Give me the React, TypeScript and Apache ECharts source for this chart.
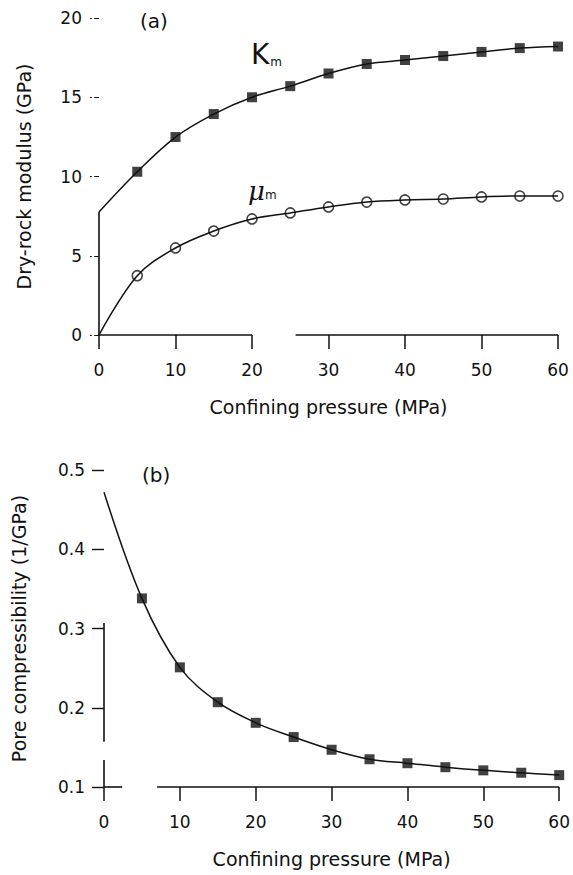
import React, { useEffect, useRef } from "react";
import * as echarts from "echarts";

// ---- data ----
const pressure = [5, 10, 15, 20, 25, 30, 35, 40, 45, 50, 55, 60];
const kDry = [10.3, 12.49, 13.94, 15.0, 15.7, 16.5, 17.1, 17.35, 17.6, 17.86, 18.1, 18.2];
const muDry = [3.74, 5.49, 6.56, 7.32, 7.7, 8.08, 8.39, 8.52, 8.58, 8.71, 8.77, 8.77];
const kAtZero = 7.76;
const muAtZero = 0;
const poreComp = [0.338, 0.251, 0.207, 0.181, 0.163, 0.147, 0.135, 0.13, 0.125, 0.121, 0.118, 0.115];
const poreAtZero = 0.472;

// visible pieces of the (scanned, broken) axis lines, in data units
const aYAxisSegments = [[0, kAtZero]];
const aXAxisSegments = [[0, 20], [25.7, 60]];
const bYAxisSegments = [[0.1, 0.134], [0.157, 0.307]];
const bXAxisSegments = [[0, 2.4], [7, 60]];

const xTicks = { min: 0, max: 60, interval: 10 };

const FONT = "DejaVu Sans";
const INK = "#111";

const pts = (xs: number[], ys: number[]) => xs.map((x, i) => [x, ys[i]]);

function segLines(segs: number[][], vertical: boolean, fixed: number) {
  return segs.map(([a, b]) =>
    vertical
      ? [{ coord: [fixed, a] }, { coord: [fixed, b] }]
      : [{ coord: [a, fixed] }, { coord: [b, fixed] }]
  );
}

export default function App() {
  const ref = useRef<HTMLDivElement>(null);
  useEffect(() => {
    if (!ref.current) return;
    const chart = echarts.init(ref.current, null, { renderer: "svg" });

    const tickLabel = { color: INK, fontFamily: FONT, fontSize: 17 };
    const nameStyle = { color: INK, fontFamily: FONT, fontSize: 19 };

    const xAxisBase = (gridIndex: number) => ({
      type: "value",
      gridIndex,
      ...xTicks,
      name: "Confining pressure (MPa)",
      nameLocation: "middle",
      nameGap: 62,
      nameTextStyle: nameStyle,
      axisLine: { show: false },
      axisTick: { show: true, inside: false, length: 14, lineStyle: { color: INK, width: 1.5 } },
      axisLabel: { ...tickLabel, margin: 26 },
      splitLine: { show: false },
    });

    const axisSegStyle = {
      symbol: ["none", "none"],
      silent: true,
      label: { show: false },
      lineStyle: { type: "solid", color: INK, width: 1.6 },
      emphasis: { disabled: true },
    };

    chart.setOption({
      animation: false,
      backgroundColor: "#fff",
      grid: [
        { left: 99, right: 15, top: 18, height: 317 },
        { left: 104, right: 12, top: 470, height: 317 },
      ],
      xAxis: [xAxisBase(0), xAxisBase(1)],
      yAxis: [
        {
          type: "value",
          gridIndex: 0,
          min: 0,
          max: 20,
          interval: 5,
          name: "Dry-rock modulus (GPa)",
          nameLocation: "middle",
          nameGap: 66,
          nameTextStyle: nameStyle,
          axisLine: { show: false },
          axisTick: { show: true, inside: false, length: 9, lineStyle: { color: INK, width: 1.2, type: "dashed" } },
          axisLabel: { ...tickLabel, margin: 17 },
          splitLine: { show: false },
        },
        {
          type: "value",
          gridIndex: 1,
          min: 0.1,
          max: 0.5,
          interval: 0.1,
          name: "Pore compressibility (1/GPa)",
          nameLocation: "middle",
          nameGap: 76,
          nameTextStyle: nameStyle,
          axisLine: { show: false },
          axisTick: { show: true, inside: false, length: 12, lineStyle: { color: INK, width: 1.4 } },
          axisLabel: { ...tickLabel, margin: 19, formatter: (v: number) => v.toFixed(1) },
          splitLine: { show: false },
        },
      ],
      graphic: [
        { type: "text", left: 140, top: 11, style: { text: "(a)", fontFamily: FONT, fontSize: 20, fill: INK } },
        { type: "text", left: 142, top: 465, style: { text: "(b)", fontFamily: FONT, fontSize: 20, fill: INK } },
        {
          type: "text",
          left: 251,
          top: 40,
          style: {
            text: "{k|K}{m|m}",
            rich: {
              k: { fontFamily: FONT, fontSize: 28, fill: INK, verticalAlign: "bottom" },
              m: { fontFamily: FONT, fontSize: 12, fill: INK, verticalAlign: "bottom", padding: [0, 0, 0, 1] },
            },
          },
        },
        {
          type: "text",
          left: 248,
          top: 178,
          style: {
            text: "{k|μ}{m|m}",
            rich: {
              k: { fontFamily: "DejaVu Serif", fontStyle: "italic", fontSize: 26, fill: INK, verticalAlign: "bottom" },
              m: { fontFamily: FONT, fontSize: 12, fill: INK, verticalAlign: "bottom", padding: [0, 0, 3, 0] },
            },
          },
        },
      ],
      series: [
        // panel (a) axis line pieces
        {
          type: "line",
          xAxisIndex: 0,
          yAxisIndex: 0,
          data: [],
          markLine: {
            ...axisSegStyle,
            data: [...segLines(aYAxisSegments, true, 0), ...segLines(aXAxisSegments, false, 0)],
          },
        },
        // K fit curve
        {
          type: "line",
          xAxisIndex: 0,
          yAxisIndex: 0,
          data: [[0, kAtZero], ...pts(pressure, kDry)],
          smooth: 0.35,
          showSymbol: false,
          lineStyle: { color: INK, width: 1.5 },
          silent: true,
        },
        // mu fit curve
        {
          type: "line",
          xAxisIndex: 0,
          yAxisIndex: 0,
          data: [[0, muAtZero], ...pts(pressure, muDry)],
          smooth: 0.35,
          showSymbol: false,
          lineStyle: { color: INK, width: 1.5 },
          silent: true,
        },
        {
          type: "scatter",
          xAxisIndex: 0,
          yAxisIndex: 0,
          data: pts(pressure, kDry),
          symbol: "rect",
          symbolSize: 10,
          itemStyle: { color: INK },
        },
        {
          type: "scatter",
          xAxisIndex: 0,
          yAxisIndex: 0,
          data: pts(pressure, muDry),
          symbol: "circle",
          symbolSize: 10,
          itemStyle: { color: "#fff", borderColor: INK, borderWidth: 1.6 },
        },
        // panel (b) axis line pieces
        {
          type: "line",
          xAxisIndex: 1,
          yAxisIndex: 1,
          data: [],
          markLine: {
            ...axisSegStyle,
            data: [...segLines(bYAxisSegments, true, 0), ...segLines(bXAxisSegments, false, 0.1)],
          },
        },
        {
          type: "line",
          xAxisIndex: 1,
          yAxisIndex: 1,
          data: [[0, poreAtZero], ...pts(pressure, poreComp)],
          smooth: 0.35,
          showSymbol: false,
          lineStyle: { color: INK, width: 1.5 },
          silent: true,
        },
        {
          type: "scatter",
          xAxisIndex: 1,
          yAxisIndex: 1,
          data: pts(pressure, poreComp),
          symbol: "rect",
          symbolSize: 10,
          itemStyle: { color: INK },
        },
      ],
    });
    return () => chart.dispose();
  }, []);

  return (
    <div
      ref={ref}
      style={{ position: "absolute", left: 0, top: 0, width: 573, height: 875, background: "#fff" }}
    />
  );
}
